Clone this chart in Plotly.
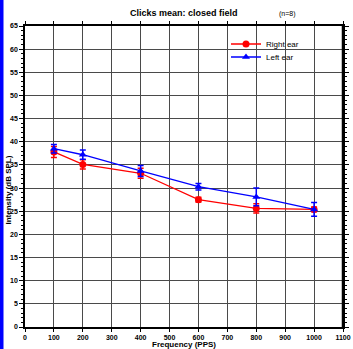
import plotly.graph_objects as go

freq = [100, 200, 400, 600, 800, 1000]
right_ear = [37.8, 35.1, 33.2, 27.5, 25.6, 25.4]
right_err = [1.2, 1.0, 1.1, 0.5, 1.0, 0.5]
left_ear = [38.5, 37.2, 33.7, 30.3, 28.1, 25.4]
left_err = [0.9, 1.0, 1.2, 0.7, 1.9, 1.5]

title_text = "<b>Clicks mean: closed field</b>"
n_text = "(n=8)"
x_title = "Frequency (PPS)"
y_title = "Intensity (dB SPL)"

FONT = "Arial, Liberation Sans, sans-serif"

L, R, T, B = 25, 10, 26, 22
W, H = 353, 349
pw = W - L - R
ph = H - T - B

fig = go.Figure()
fig.add_trace(go.Scatter(
    x=freq, y=right_ear, name="Right ear", mode="lines+markers", legend="legend",
    line=dict(color="#ff0000", width=1.3),
    marker=dict(symbol="circle", size=7, color="#ff0000"),
    error_y=dict(type="data", array=right_err, color="#ff0000", thickness=1.5, width=3),
))
fig.add_trace(go.Scatter(
    x=freq, y=left_ear, name="Left ear", mode="lines+markers", legend="legend2",
    line=dict(color="#0000ff", width=1.3),
    marker=dict(symbol="triangle-up", size=7, color="#0000ff"),
    error_y=dict(type="data", array=left_err, color="#0000ff", thickness=1.5, width=3),
))

legx = (226 - L) / pw
common_leg = dict(x=legx, xanchor="left", yanchor="middle", bgcolor="rgba(0,0,0,0)",
                  font=dict(size=8, family=FONT, color="black"), itemwidth=30,
                  borderwidth=0)

grid = dict(showgrid=True, gridcolor="#4a4a4a", griddash="solid", gridwidth=1)

fig.update_layout(
    width=W, height=H,
    margin=dict(l=L, r=R, t=T, b=B, pad=0, autoexpand=False),
    paper_bgcolor="white", plot_bgcolor="white",
    font=dict(family=FONT, color="black", size=7),
    showlegend=True,
    legend=dict(y=1 - (44 - T) / ph, **common_leg),
    legend2=dict(y=1 - (57 - T) / ph, **common_leg),
    xaxis=dict(
        range=[0, 1100], tickmode="linear", tick0=0, dtick=100, automargin=False,
        showline=True, linecolor="black", linewidth=1.5, mirror="allticks",
        ticks="outside", ticklen=3, tickwidth=1.2, tickcolor="black",
        tickfont=dict(size=7, family=FONT, weight="bold"),
        zeroline=False, **grid,
    ),
    yaxis=dict(
        range=[0, 65], tickmode="linear", tick0=0, dtick=5, automargin=False,
        showline=True, linecolor="black", linewidth=1.5, mirror="allticks",
        ticks="outside", ticklen=4, tickwidth=1.2, tickcolor="black",
        tickfont=dict(size=7, family=FONT, weight="bold"),
        minor=dict(dtick=1, ticks="outside", ticklen=2, tickcolor="black", tickwidth=1, showgrid=False),
        zeroline=False, **grid,
    ),
    annotations=[
        dict(text=title_text, xref="paper", yref="paper", x=(184 - L) / pw, y=1,
             yshift=13, xanchor="center", yanchor="middle", showarrow=False,
             font=dict(size=9, family=FONT)),
        dict(text=n_text, xref="paper", yref="paper", x=(287 - L) / pw, y=1,
             yshift=12, xanchor="center", yanchor="middle", showarrow=False,
             font=dict(size=7, family=FONT)),
        dict(text="<b>" + x_title + "</b>", xref="paper", yref="paper", x=(184 - L) / pw, y=0,
             yshift=-(344 - (H - B)), xanchor="center", yanchor="middle", showarrow=False,
             font=dict(size=8, family=FONT)),
        dict(text="<b>" + y_title + "</b>", xref="paper", yref="paper", x=0, y=1 - (190 - T) / ph,
             xshift=-(L - 7.5), xanchor="center", yanchor="middle", showarrow=False, textangle=-90,
             font=dict(size=8, family=FONT)),
    ],
    shapes=[
        dict(type="rect", xref="paper", yref="paper", x0=-L / pw, x1=(3.5 - L) / pw,
             y0=-B / ph, y1=1 + T / ph, fillcolor="#0000ff", line=dict(width=0),
             layer="above"),
        dict(type="line", xref="paper", yref="paper", x0=1, x1=1, y0=0, y1=1,
             line=dict(color="black", width=2.5), layer="above"),
    ],
)

fig.write_html("out.html")
